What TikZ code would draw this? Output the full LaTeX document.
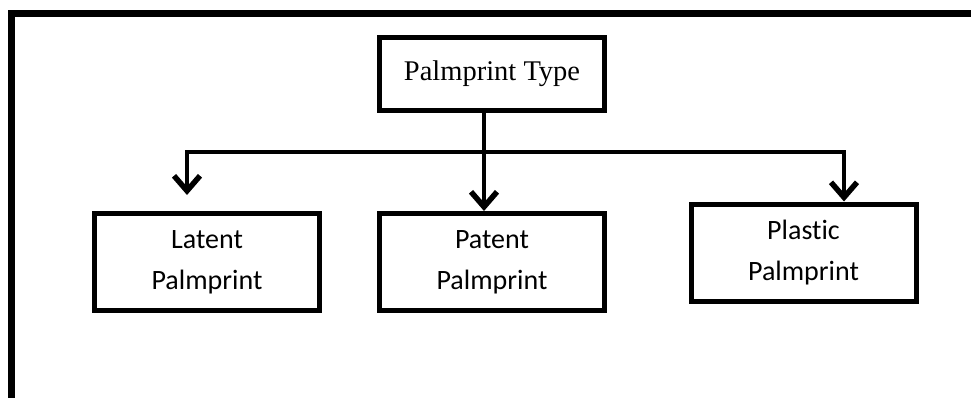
\documentclass[tikz,border=0pt]{standalone}
\usepackage{fontspec}
\setmainfont{Carlito}[Ligatures={NoCommon}]
\newfontfamily\serifhead{Liberation Serif}
\usetikzlibrary{arrows.meta}
\tikzset{
  typebox/.style={draw, line width=5pt, minimum width=225pt, minimum height=97pt,
    inner sep=0pt, align=center, font=\fontsize{28}{41}\selectfont},
  link/.style={line width=4pt},
  linkarrow/.style={link, -{Straight Barb[length=15pt,width=26pt,line width=5.5pt]}},
}
\begin{document}
\begin{tikzpicture}[x=1pt,y=-1pt]
  \useasboundingbox (0,0) rectangle (971,398);
  % open frame: top and left edges only
  \draw[line width=7pt, line join=miter] (11.5,398) -- (11.5,14) -- (971,14);

  % root and the three kinds
  \node[typebox, minimum height=73pt, font=\serifhead\fontsize{28.5}{32}\selectfont]
    (root) at (492,74) {\raisebox{4pt}{Palmprint Type}};
  \node[typebox] (latent)  at (207,262) {Latent\\Palmprint};
  \node[typebox] (patent)  at (492,262) {Patent\\Palmprint};
  \node[typebox] (plastic) at (803.5,252.5) {Plastic\\Palmprint};

  % branching connectors
  \coordinate (hub) at (484,152);
  \coordinate (hubL) at (187,152);
  \coordinate (hubR) at (844,152);
  \path (hubL |- latent.north) ++(0,-16) coordinate (latTip);
  \draw[link] (root.south -| hub) -- (hub);
  \draw[linkarrow, line join=miter] (hubR) -- (hubL) -- (latTip);
  \draw[linkarrow] (hub) -- (hub |- patent.north);
  \draw[linkarrow, line join=miter] (hubL) -- (hubR) -- (hubR |- plastic.north);
\end{tikzpicture}
\end{document}
